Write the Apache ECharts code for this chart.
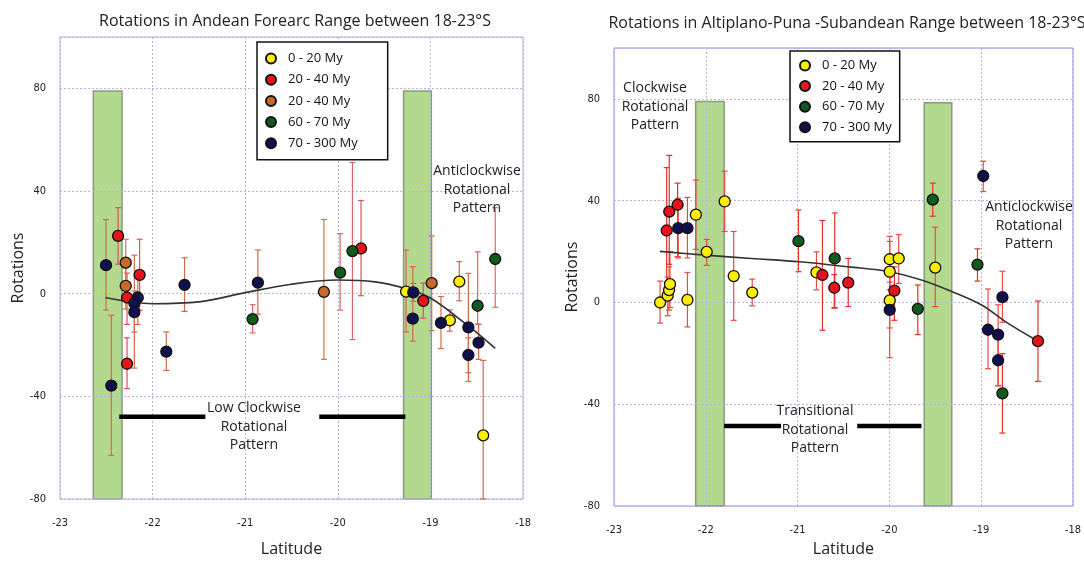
<!DOCTYPE html>
<html>
<head>
<meta charset="utf-8">
<script src="https://cdn.jsdelivr.net/npm/echarts@6/dist/echarts.min.js"></script>
<style>
  html, body { margin: 0; padding: 0; background: #fff; }
  #chart { width: 1084px; height: 562px; }
</style>
</head>
<body>
<div id="chart"></div>
<script>
// ---- Andean Forearc (left panel): [latitude, rotation, lower error, upper error]
const forearc_0_20 = [
  [-19.263, 0.8, -14.9, 17.0],
  [-18.790, -10.4, -14.6, -6.3],
  [-18.688, 4.7, -2.8, 12.5],
  [-18.430, -55.2, -80.0, -26.0]
];
const forearc_20_40_red = [
  [-22.373, 22.5, 11.5, 33.5],
  [-22.140, 7.3, -6.5, 21.2],
  [-22.276, -1.5, -12.0, 8.0],
  [-22.276, -27.3, -37.0, -17.2],
  [-19.749, 17.6, -0.8, 36.3],
  [-19.077, -2.8, -9.5, 4.1]
];
const forearc_20_40_orange = [
  [-22.290, 12.1, 4.0, 21.2],
  [-22.290, 3.0, -6.0, 10.0],
  [-20.150, 0.7, -25.6, 28.9],
  [-18.986, 4.1, -14.4, 22.5]
];
const forearc_60_70 = [
  [-20.920, -9.9, -15.3, -4.3],
  [-19.975, 8.2, -6.4, 23.4],
  [-19.842, 16.6, -17.9, 51.1],
  [-18.490, -4.7, -11.8, 16.3],
  [-18.300, 13.5, -5.3, 33.5]
];
const forearc_70_300 = [
  [-22.503, 11.1, -6.4, 28.9],
  [-22.446, -35.8, -63.0, -8.4],
  [-22.160, -1.5, -12.0, 9.0],
  [-22.197, -3.7, -29.0, 15.0],
  [-22.197, -7.2, -15.0, 1.0],
  [-21.852, -22.6, -29.9, -14.9],
  [-21.655, 3.4, -6.9, 14.0],
  [-20.863, 4.3, -8.0, 17.0],
  [-19.185, 0.5, -3.0, 4.0],
  [-19.190, -9.7, -18.5, 10.5],
  [-18.886, -11.4, -21.4, -1.1],
  [-18.590, -13.1, -30.8, 7.9],
  [-18.590, -23.9, -34.2, -17.2],
  [-18.480, -19.1, -25.6, -12.0]
];
// fitted trend curve, read at sample latitudes
const forearcTrend = [
  [-22.51, -1.5], [-22.00, -3.9], [-21.50, -3.2], [-21.00, 0.4], [-20.50, 3.7],
  [-20.00, 5.3], [-19.60, 4.6], [-19.26, 1.9], [-19.00, -1.7], [-18.61, -12.0],
  [-18.30, -21.3]
];
// green bands: [lat from, lat to, top, bottom]
const forearcBands = [[-22.64, -22.33, 79, -80], [-19.29, -18.99, 79, -80]];
// thick black pattern markers: [lat from, lat to, rotation]
const forearcBars = [[-22.36, -21.43, -48], [-20.20, -19.27, -48]];

// ---- Altiplano-Puna-Subandean (right panel)
const altiplano_0_20 = [
  [-22.108, 34.5, 20.9, 48.1],
  [-21.990, 19.9, 14.6, 24.8],
  [-21.794, 39.7, 27.9, 51.6],
  [-22.498, 0.0, -8.1, 8.4],
  [-22.415, 2.7, -5.2, 10.0],
  [-22.400, 4.9, -3.0, 14.0],
  [-22.390, 7.2, -2.0, 20.0],
  [-22.200, 1.0, -9.6, 11.8],
  [-21.696, 10.4, -7.0, 27.9],
  [-21.494, 3.9, -1.3, 9.2],
  [-20.794, 11.8, 5.0, 19.9],
  [-19.996, 17.0, 5.0, 26.0],
  [-19.898, 17.3, 7.5, 26.7],
  [-19.996, 12.1, -2.0, 24.0],
  [-19.996, 0.8, -10.0, 10.0],
  [-19.500, 13.7, -1.6, 29.6]
];
const altiplano_20_40 = [
  [-22.398, 35.7, 15.0, 57.8],
  [-22.426, 28.3, 8.0, 53.0],
  [-22.307, 38.4, 18.0, 46.9],
  [-20.729, 10.8, -10.9, 32.2],
  [-20.600, 5.8, -2.2, 11.0],
  [-20.448, 7.8, -1.6, 17.3],
  [-19.945, 4.7, -7.0, 14.0],
  [-18.381, -15.2, -31.0, 0.6]
];
const altiplano_60_70 = [
  [-20.990, 24.1, 12.1, 36.3],
  [-20.595, 17.3, -2.0, 35.2],
  [-19.690, -2.5, -12.6, 6.9],
  [-19.527, 40.4, 33.9, 46.9],
  [-19.040, 14.9, 8.4, 21.1],
  [-18.768, -35.7, -51.3, -20.1]
];
const altiplano_70_300 = [
  [-22.300, 29.2, 17.5, 41.0],
  [-22.200, 29.2, 17.5, 41.3],
  [-19.996, -2.9, -21.7, 8.0],
  [-18.977, 49.7, 43.6, 55.5],
  [-18.925, -10.7, -26.0, 5.3],
  [-18.815, -12.6, -32.7, -0.9],
  [-18.815, -22.7, -32.7, -12.0],
  [-18.768, 2.1, -7.8, 12.3]
];
const altiplanoTrend = [
  [-22.50, 20.1], [-22.00, 18.6], [-21.50, 17.3], [-20.98, 16.0], [-20.44, 14.0],
  [-20.00, 12.1], [-19.65, 8.8], [-19.32, 4.3], [-19.00, -0.9], [-18.71, -8.1],
  [-18.38, -15.2]
];
const altiplanoBands = [[-22.11, -21.80, 79, -80], [-19.62, -19.32, 78.5, -80]];
const altiplanoBars = [[-21.80, -21.18, -48.5], [-20.35, -19.65, -48.5]];

// ---- axis ticks and labels
const latTicks = [-23, -22, -21, -20, -19, -18];
const rotTicks = [-80, -40, 0, 40, 80];

const LABEL_FONT = "'Liberation Sans Narrow', 'DejaVu Sans Condensed', sans-serif";
const TEXT_FONT = "'Open Sans', 'Noto Sans', sans-serif";

const COLORS = {
  yellow: '#ffee00',
  red: '#e8141c',
  orange: '#c8692c',
  green: '#0f5a1c',
  navy: '#10104e'
};

const chart = echarts.init(document.getElementById('chart'), null, { renderer: 'canvas' });

function makeAxes(gridIndex, xGap, yGap) {
  const splitStyle = { show: true, lineStyle: { color: '#b4b4e4', type: [2, 2], width: 1 } };
  return {
    x: {
      type: 'value', gridIndex, min: latTicks[0], max: latTicks[latTicks.length - 1], interval: 1,
      name: 'Latitude', nameLocation: 'middle', nameGap: xGap,
      nameTextStyle: { fontFamily: TEXT_FONT, fontSize: 16, color: '#222' },
      axisLine: { show: false }, axisTick: { show: false },
      axisLabel: { fontFamily: LABEL_FONT, fontSize: 11, color: '#222', margin: 19 },
      splitLine: splitStyle
    },
    y: {
      type: 'value', gridIndex, min: rotTicks[0], max: 100, interval: 40,
      name: 'Rotations', nameLocation: 'middle', nameGap: yGap, nameRotate: 90,
      nameTextStyle: { fontFamily: TEXT_FONT, fontSize: 16, color: '#222' },
      axisLine: { show: false }, axisTick: { show: false },
      axisLabel: {
        fontFamily: LABEL_FONT, fontSize: 11, color: '#222', margin: 14,
        formatter: v => (rotTicks.indexOf(v) >= 0 ? String(v) : '')
      },
      splitLine: splitStyle
    }
  };
}

const leftAxes = makeAxes(0, 42, 33);
const rightAxes = makeAxes(1, 33, 33);

function scatter(name, data, color, idx) {
  return {
    name, type: 'scatter', xAxisIndex: idx, yAxisIndex: idx, z: 5,
    data: data.map(d => [d[0], d[1]]),
    symbolSize: 11,
    itemStyle: { color, borderColor: '#111', borderWidth: 1.3, opacity: 1 }
  };
}

function errorBars(data, color, idx) {
  return {
    type: 'custom', xAxisIndex: idx, yAxisIndex: idx, z: 3, silent: true,
    data: data.map(d => [d[0], d[2], d[3]]),
    encode: { x: 0, y: [1, 2] },
    renderItem: (params, api) => {
      const lo = api.coord([api.value(0), api.value(1)]);
      const hi = api.coord([api.value(0), api.value(2)]);
      const style = { stroke: color, lineWidth: 1.2 };
      return {
        type: 'group',
        children: [
          { type: 'line', shape: { x1: lo[0], y1: lo[1], x2: hi[0], y2: hi[1] }, style },
          { type: 'line', shape: { x1: hi[0] - 3, y1: hi[1], x2: hi[0] + 3, y2: hi[1] }, style },
          { type: 'line', shape: { x1: lo[0] - 3, y1: lo[1], x2: lo[0] + 3, y2: lo[1] }, style }
        ]
      };
    }
  };
}

function bands(data, idx) {
  return {
    type: 'custom', xAxisIndex: idx, yAxisIndex: idx, z: -1, silent: true,
    data, encode: { x: [0, 1], y: [2, 3] },
    renderItem: (params, api) => {
      const a = api.coord([api.value(0), api.value(2)]);
      const b = api.coord([api.value(1), api.value(3)]);
      return {
        type: 'rect',
        shape: { x: a[0], y: a[1], width: b[0] - a[0], height: b[1] - a[1] },
        style: { fill: '#b3d98e', stroke: '#8a9a80', lineWidth: 1.5 }
      };
    }
  };
}

function patternBars(data, idx) {
  return {
    type: 'custom', xAxisIndex: idx, yAxisIndex: idx, z: 2, silent: true,
    data, encode: { x: [0, 1], y: 2 },
    renderItem: (params, api) => {
      const a = api.coord([api.value(0), api.value(2)]);
      const b = api.coord([api.value(1), api.value(2)]);
      return {
        type: 'line',
        shape: { x1: a[0], y1: a[1], x2: b[0], y2: b[1] },
        style: { stroke: '#000', lineWidth: 4.5 }
      };
    }
  };
}

function trend(data, idx) {
  return {
    type: 'line', xAxisIndex: idx, yAxisIndex: idx, z: 4, silent: true,
    data, smooth: 0.35, showSymbol: false, symbol: 'none',
    lineStyle: { color: '#333', width: 1.6 }
  };
}

const legendText = { fontFamily: TEXT_FONT, fontSize: 13, color: '#111', padding: [0, 0, 0, 7] };

function note(text, x, y) {
  return {
    type: 'text', x, y, z: 100,
    style: {
      text, x: 0, y: 0, align: 'center', verticalAlign: 'middle',
      fontFamily: TEXT_FONT, fontSize: 14, lineHeight: 18.5, fill: '#222'
    }
  };
}

const option = {
  backgroundColor: '#fff',
  animation: false,
  title: [
    {
      text: 'Rotations in Andean Forearc Range between 18-23°S',
      left: 290, top: 8, textAlign: 'center',
      textStyle: { fontFamily: TEXT_FONT, fontSize: 16, fontWeight: 'normal', color: '#222' }
    },
    {
      text: 'Rotations in Altiplano-Puna -Subandean Range between 18-23°S',
      left: 842, top: 10, textAlign: 'center',
      textStyle: { fontFamily: TEXT_FONT, fontSize: 16, fontWeight: 'normal', color: '#222' }
    }
  ],
  grid: [
    { left: 60, top: 37, width: 463, height: 465, show: true, borderColor: '#b0b0d4', borderWidth: 1 },
    { left: 614, top: 48, width: 461, height: 462, show: true, borderColor: '#8c8ce8', borderWidth: 1 }
  ],
  xAxis: [leftAxes.x, rightAxes.x],
  yAxis: [leftAxes.y, rightAxes.y],
  legend: [
    {
      orient: 'vertical', left: 257, top: 42, width: 110,
      padding: [10, 30, 10, 8], itemWidth: 10, itemHeight: 10, itemGap: 8.2,
      borderColor: '#111', borderWidth: 1.5, backgroundColor: '#fff',
      textStyle: legendText, selectedMode: false, icon: 'circle',
      data: ['0 - 20 My', '20 - 40 My', '20 - 40 My ', '60 - 70 My', '70 - 300 My']
    },
    {
      orient: 'vertical', left: 790, top: 51,
      padding: [8, 8, 8, 9], itemWidth: 10, itemHeight: 10, itemGap: 7.6,
      borderColor: '#111', borderWidth: 1.5, backgroundColor: '#fff',
      textStyle: legendText, selectedMode: false, icon: 'circle',
      data: ['0 - 20 My', '20 - 40 My', '60 - 70 My', '70 - 300 My']
    }
  ],
  graphic: [
    note('Low Clockwise\nRotational\nPattern', 254, 427),
    note('Anticlockwise\nRotational\nPattern', 477, 190),
    note('Clockwise\nRotational\nPattern', 655, 107),
    note('Transitional\nRotational\nPattern', 815, 430),
    note('Anticlockwise\nRotational\nPattern', 1029, 226)
  ],
  series: [
    // left panel
    bands(forearcBands, 0),
    patternBars(forearcBars, 0),
    errorBars(forearc_0_20, '#e0605a', 0),
    errorBars(forearc_20_40_red, '#e0505a', 0),
    errorBars(forearc_20_40_orange, '#c97a40', 0),
    errorBars(forearc_60_70, '#e0646a', 0),
    errorBars(forearc_70_300, '#d46a4a', 0),
    trend(forearcTrend, 0),
    scatter('0 - 20 My', forearc_0_20, COLORS.yellow, 0),
    scatter('20 - 40 My', forearc_20_40_red, COLORS.red, 0),
    scatter('20 - 40 My ', forearc_20_40_orange, COLORS.orange, 0),
    scatter('60 - 70 My', forearc_60_70, COLORS.green, 0),
    scatter('70 - 300 My', forearc_70_300, COLORS.navy, 0),
    // right panel
    bands(altiplanoBands, 1),
    patternBars(altiplanoBars, 1),
    errorBars(altiplano_0_20, '#ea4a44', 1),
    errorBars(altiplano_20_40, '#e8302a', 1),
    errorBars(altiplano_60_70, '#e8302a', 1),
    errorBars(altiplano_70_300, '#ea4a44', 1),
    trend(altiplanoTrend, 1),
    scatter('0 - 20 My', altiplano_0_20, COLORS.yellow, 1),
    scatter('20 - 40 My', altiplano_20_40, COLORS.red, 1),
    scatter('60 - 70 My', altiplano_60_70, COLORS.green, 1),
    scatter('70 - 300 My', altiplano_70_300, COLORS.navy, 1)
  ]
};

chart.setOption(option);
</script>
</body>
</html>
